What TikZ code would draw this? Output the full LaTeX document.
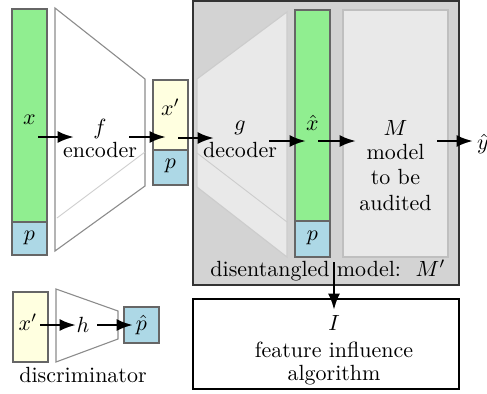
\documentclass[tikz,border=0pt]{standalone}
\usetikzlibrary{arrows.meta}
\definecolor{lgreen}{HTML}{90EE90}
\definecolor{lblue}{HTML}{ADD8E6}
\definecolor{lyellow}{HTML}{FFFFE0}
\definecolor{boxgray}{HTML}{D3D3D3}
\definecolor{innergray}{HTML}{E9E9E9}
\begin{document}
\begin{tikzpicture}[x=0.455pt,y=-0.455pt,
  bar/.style={draw=black!60, line width=0.5pt},
  trap/.style={draw=black!45, line width=0.5pt},
  faint/.style={draw=black!20, line width=0.4pt},
  arr/.style={-{Latex[length=7.5pt,width=5.5pt]}, line width=1.2pt},
  lbl/.style={inner sep=0pt}]
\useasboundingbox (0,0) rectangle (487,393);
% input x
\draw[bar, fill=lgreen] (12,9) rectangle (47,222);
\draw[bar, fill=lblue] (12,222) rectangle (47,255);
\node[lbl] (xlab) at (29.5,120) {$x$};
\node[lbl] (plab1) at (29.5,238) {$p$};
% encoder
\draw[trap, fill=white] (55,8) -- (145,79) -- (145,186) -- (55,251) -- cycle;
\draw[faint] (57,218) -- (145,152);
\node[lbl] (flab) at (100,129) {$f$};
\node[lbl] (enc) at (100,150) {encoder};
% latent
\draw[bar, fill=lyellow] (153,80) rectangle (188,150);
\draw[bar, fill=lblue] (153,150) rectangle (188,185);
\node[lbl] (xplab) at (170.5,107) {$x'$};
\node[lbl] (plab2) at (170.5,166) {$p$};
% disentangled model box
\draw[draw=black!80, line width=1pt, fill=boxgray] (193,1) rectangle (459,285);
\draw[draw=black!20, line width=0.5pt, fill=innergray] (197,79) -- (287,12) -- (287,257) -- (197,187) -- cycle;
\draw[draw=black!20, line width=0.4pt] (197,153) -- (287,222);
\node[lbl] (glab) at (240,128) {$g$};
\node[lbl] (dec) at (240,150) {decoder};
\draw[bar, fill=lgreen] (295,10) rectangle (330,221);
\draw[bar, fill=lblue] (295,221) rectangle (330,257);
\node[lbl] (xhat) at (312.5,123) {$\hat{x}$};
\node[lbl] (plab3) at (312.5,238) {$p$};
\draw[draw=black!25, line width=0.5pt, fill=innergray] (343,10) rectangle (448,257);
\node[lbl] (Mlab) at (395.5,128) {$M$};
\node[lbl] (m1) at (395.5,152) {model};
\node[lbl] (m2) at (395.5,177) {to be};
\node[lbl] (m3) at (395.5,203) {audited};
\node[lbl] (yhat) at (483,144) {$\hat{y}$};
\node[lbl] (dm) at (328,270) {disentangled model:\ \ $M'$};
% feature influence
\draw[draw=black, line width=1pt, fill=white] (193,299) rectangle (459,389);
\node[lbl] (Ilab) at (334,323) {$I$};
\node[lbl] (fi1) at (334,350) {feature influence};
\node[lbl] (fi2) at (334,375) {algorithm};
% discriminator
\draw[bar, fill=lyellow] (13,292) rectangle (48,362);
\draw[trap, fill=white] (56,289) -- (118,311) -- (118,339) -- (56,362) -- cycle;
\draw[bar, fill=lblue] (124,307) rectangle (159,343);
\node[lbl] (xpd) at (28,322) {$x'$};
\node[lbl] (hlab) at (83,325) {$h$};
\node[lbl] (phat) at (141.5,325) {$\hat{p}$};
\node[lbl] (disc) at (83,375) {discriminator};
% arrow coordinates
\coordinate (a1s) at (38,137); \coordinate (a1e) at (74,137);
\coordinate (a2s) at (129,137); \coordinate (a2e) at (166,137);
\coordinate (a3s) at (178,138); \coordinate (a3e) at (214,138);
\coordinate (a4s) at (269,141); \coordinate (a4e) at (306,141);
\coordinate (a5s) at (318,141); \coordinate (a5e) at (356,141);
\coordinate (a6s) at (437,141); \coordinate (a6e) at (473,141);
\coordinate (a7s) at (334,262); \coordinate (a7e) at (334,310);
\coordinate (b1s) at (40,325); \coordinate (b1e) at (76,325);
\coordinate (b2s) at (97,325); \coordinate (b2e) at (133,325);
\foreach \s/\e in {a1s/a1e,a2s/a2e,a3s/a3e,a4s/a4e,a5s/a5e,a6s/a6e,a7s/a7e,b1s/b1e,b2s/b2e}
  \draw[arr] (\s) -- (\e);
\end{tikzpicture}
\end{document}
